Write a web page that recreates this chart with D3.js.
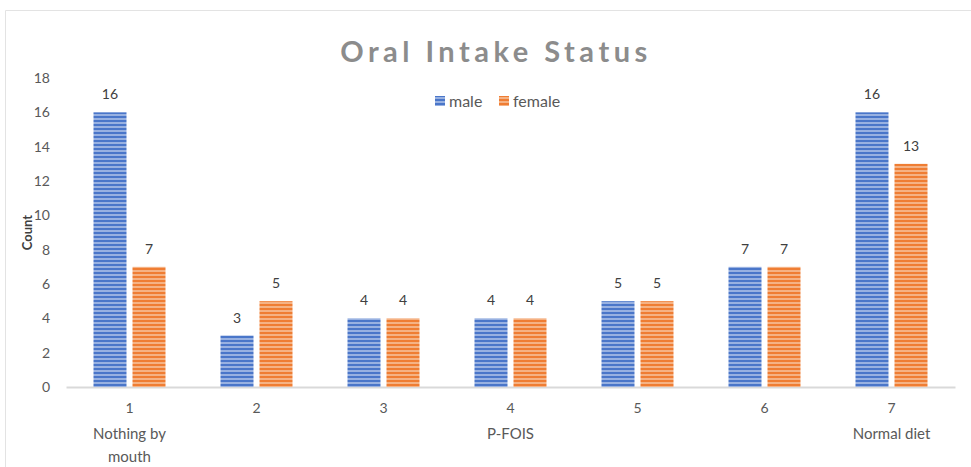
<!DOCTYPE html>
<html>
<head>
<meta charset="utf-8">
<title>Oral Intake Status</title>
<script src="https://d3js.org/d3.v7.min.js"></script>
<style>
  body { margin: 0; background: #fff; }
  svg text { font-family: Lato, "Open Sans", sans-serif; }
</style>
</head>
<body>
<svg id="chart"></svg>
<script>
// chart data
const categories = ["1", "2", "3", "4", "5", "6", "7"];
const subLabels = [["Nothing by", "mouth"], [], [], ["P-FOIS"], [], [], ["Normal diet"]];
const male = [16, 3, 4, 4, 5, 7, 16];
const female = [7, 5, 4, 4, 5, 7, 13];
const seriesNames = ["male", "female"];
const yTicks = [0, 2, 4, 6, 8, 10, 12, 14, 16, 18];

const width = 971, height = 467;
const margin = { top: 78, right: 16, bottom: 80, left: 66 };

const svg = d3.select("#chart").attr("width", width).attr("height", height);

// outer frame
svg.append("path")
    .attr("d", "M5.5," + height + " V10.5 H" + width)
    .attr("fill", "none")
    .attr("stroke", "#e3e3e3")
    .attr("stroke-width", 1);

// stripe patterns
const defs = svg.append("defs");
function stripes(id, base, light) {
    const p = defs.append("pattern")
        .attr("id", id)
        .attr("patternUnits", "userSpaceOnUse")
        .attr("width", 8).attr("height", 4);
    p.append("rect").attr("width", 8).attr("height", 4).attr("fill", base);
    p.append("rect").attr("y", 2.3).attr("width", 8).attr("height", 1.4).attr("fill", light);
}
stripes("pMale", "#4a76c9", "#b9cbec");
stripes("pFemale", "#ef7d33", "#f8c9a6");

const x = d3.scaleBand()
    .domain(categories)
    .range([margin.left, width - margin.right]);

const x1 = d3.scaleBand()
    .domain(seriesNames)
    .range([0, x.bandwidth()])
    .paddingInner(0.154)
    .paddingOuter(0.705);

const y = d3.scaleLinear()
    .domain([0, 18])
    .range([height - margin.bottom, margin.top]);

// y axis labels
const yAxis = d3.axisLeft(y).tickValues(yTicks).tickSize(0).tickPadding(16);
const gy = svg.append("g")
    .attr("transform", "translate(" + margin.left + ",0)")
    .call(yAxis);
gy.select(".domain").remove();
gy.selectAll("text").attr("font-size", 14).attr("fill", "#595959")
    .style("font-family", "Lato, sans-serif");

// x axis
const xAxis = d3.axisBottom(x).tickSize(0).tickPadding(16);
const gx = svg.append("g")
    .attr("transform", "translate(0," + y(0) + ")")
    .call(xAxis);
gx.select(".domain").attr("stroke", "#d9d9d9").attr("stroke-width", 2);
gx.selectAll("text").attr("font-size", 14).attr("fill", "#595959")
    .style("font-family", "Lato, sans-serif");

// second-level category labels
categories.forEach(function(c, i) {
    subLabels[i].forEach(function(line, j) {
        svg.append("text")
            .attr("x", x(c) + x.bandwidth() / 2)
            .attr("y", y(0) + 52 + j * 23)
            .attr("text-anchor", "middle")
            .attr("font-size", 15)
            .attr("fill", "#595959")
            .text(line);
    });
});

// bars
const series = [
    { name: "male", values: male, fill: "url(#pMale)" },
    { name: "female", values: female, fill: "url(#pFemale)" }
];
series.forEach(function(s) {
    svg.selectAll(".bar-" + s.name)
        .data(categories)
        .enter()
        .append("rect")
        .attr("class", "bar-" + s.name)
        .attr("x", d => x(d) + x1(s.name))
        .attr("y", (d, i) => y(s.values[i]))
        .attr("width", x1.bandwidth())
        .attr("height", (d, i) => y(0) - y(s.values[i]))
        .attr("fill", s.fill);

    svg.selectAll(".lbl-" + s.name)
        .data(categories)
        .enter()
        .append("text")
        .attr("class", "lbl-" + s.name)
        .attr("x", d => x(d) + x1(s.name) + x1.bandwidth() / 2)
        .attr("y", (d, i) => y(s.values[i]) - 13)
        .attr("text-anchor", "middle")
        .attr("font-size", 14)
        .attr("fill", "#404040")
        .text((d, i) => s.values[i]);
});

// title
svg.append("text")
    .attr("x", 496)
    .attr("y", 62)
    .attr("text-anchor", "middle")
    .attr("font-size", 29)
    .attr("font-weight", "bold")
    .attr("letter-spacing", 4.5)
    .attr("fill", "#8c8c8c")
    .text("Oral Intake Status");

// legend
const legend = svg.append("g").attr("transform", "translate(435,95)");
const legendItems = [
    { name: "male", fill: "url(#pMale)", dx: 0 },
    { name: "female", fill: "url(#pFemale)", dx: 64 }
];
legendItems.forEach(function(l) {
    legend.append("rect")
        .attr("x", l.dx).attr("y", 1)
        .attr("width", 10).attr("height", 10)
        .attr("fill", l.fill);
    legend.append("text")
        .attr("x", l.dx + 14).attr("y", 12)
        .attr("font-size", 16)
        .attr("fill", "#595959")
        .text(l.name);
});

// y axis title
svg.append("text")
    .attr("transform", "translate(32," + ((y(0) + y(18)) / 2) + ") rotate(-90)")
    .attr("text-anchor", "middle")
    .attr("font-size", 13)
    .attr("font-weight", "bold")
    .attr("fill", "#404040")
    .text("Count");
</script>
</body>
</html>
